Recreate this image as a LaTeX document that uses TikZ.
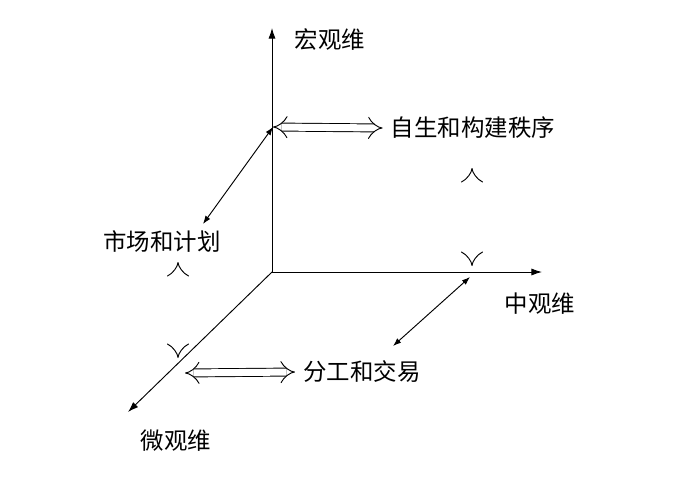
\documentclass[tikz,border=0pt]{standalone}
\usepackage{fontspec}
\newfontfamily\cjk{Noto Sans CJK SC}
\usetikzlibrary{arrows.meta}
\begin{document}
\begin{tikzpicture}[x=0.03cm,y=-0.03cm,
  axis/.style={-{Latex[length=9pt,width=6pt]},thick},
  thin2/.style={{Latex[length=7pt,width=5pt]}-{Latex[length=7pt,width=5pt]},thick},
  hollow/.style={{Implies}-{Implies},double,double distance=6pt,thick},
  lab/.style={font=\cjk\fontsize{20}{23}\selectfont,inner sep=1pt}]
\useasboundingbox (0,0) rectangle (681,478);
%axes
\coordinate (O) at (272,272);
\coordinate (Up) at (272,28);
\coordinate (Right) at (542,272);
\coordinate (Down) at (128,412);
\draw[axis] (O) -- (Up);
\draw[axis] (O) -- (Right);
\draw[axis] (O) -- (Down);
\node[lab] (macro) at (330,40) {宏观维};
\node[lab] (meso) at (540,304) {中观维};
\node[lab] (micro) at (176,441) {微观维};
%labels
\node[lab] (order) at (473,128) {自生和构建秩序};
\node[lab] (market) at (162,241) {市场和计划};
\node[lab] (trade) at (362,372) {分工和交易};
\coordinate (A) at (273,127);
\coordinate (B) at (203,224);
\coordinate (C) at (470,277);
\coordinate (D) at (393,346);
\draw[hollow] (A) -- ([xshift=-6]order.west);
\draw[thin2] (A) -- (B);
\draw[thin2] (C) -- (D);
\draw[hollow] (472,168) -- (472,266);
\draw[hollow] (178,262) -- (178,358);
\draw[hollow] (185,373) -- ([xshift=-6]trade.west);
\end{tikzpicture}
\end{document}
